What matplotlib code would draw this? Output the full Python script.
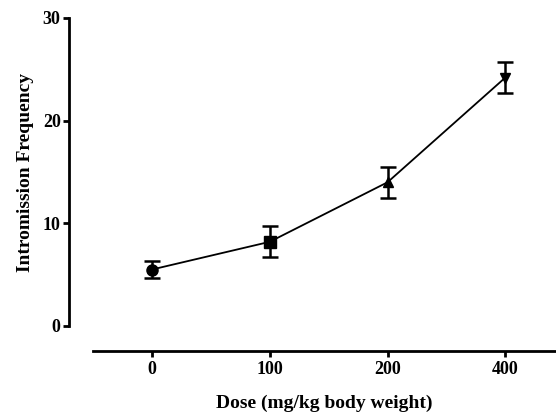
import matplotlib
matplotlib.use("Agg")
import matplotlib.pyplot as plt

doses = ["0", "100", "200", "400"]
means = [5.5, 8.2, 14.0, 24.2]
sems = [0.8, 1.5, 1.5, 1.5]
markers = ["o", "s", "^", "v"]
marker_sizes = [8, 8.5, 7, 7]
yticks = [0, 10, 20, 30]

plt.rcParams['font.family'] = ['Liberation Serif', 'DejaVu Serif']
plt.rcParams['font.weight'] = 'bold'

W, H = 556, 413
fig = plt.figure(figsize=(W/100, H/100), dpi=100)
ax = fig.add_axes([93/W, (H-326)/H, (W-93)/W, (326-18)/H])

x = list(range(len(doses)))
ax.plot(x, means, color='black', lw=1.3, zorder=2)
for xi, m, s, mk, ms in zip(x, means, sems, markers, marker_sizes):
    ax.errorbar(xi, m, yerr=s, fmt=mk, color='black', ms=ms,
                capsize=6, elinewidth=1.8, capthick=1.8, zorder=3)

ax.set_xlim(-0.5, 3.43)
ax.set_ylim(0, 30)
ax.set_xticks(x)
ax.set_xticklabels(doses)
ax.set_yticks(yticks)
for sp in ['top', 'right']:
    ax.spines[sp].set_visible(False)
ax.spines['left'].set_position(('outward', 24 * 0.72))
ax.spines['bottom'].set_position(('outward', 25 * 0.72))
ax.spines['left'].set_linewidth(2)
ax.spines['bottom'].set_linewidth(2)
ax.tick_params(axis='both', width=2, length=4, labelsize=13, pad=2)
ax.tick_params(axis='x', length=4, pad=3)
ax.set_ylabel("Intromission Frequency", fontsize=14, fontweight='bold', labelpad=6)
ax.set_xlabel("Dose (mg/kg body weight)", fontsize=14, fontweight='bold', labelpad=12)

fig.savefig("out.png", dpi=100)
